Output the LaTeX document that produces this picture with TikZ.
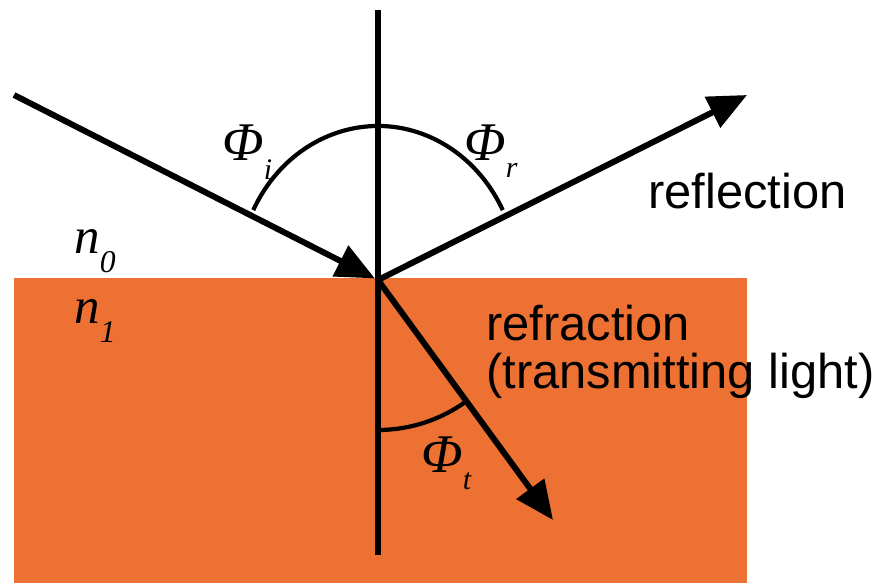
\documentclass[tikz,border=0pt]{standalone}
\usepackage{fontspec}
\setsansfont{Liberation Sans}
\newfontfamily\timesit[ItalicFont={Liberation Serif Italic}]{Liberation Serif}
\usetikzlibrary{arrows.meta}
\definecolor{medium}{RGB}{237,113,51}
\newcommand{\lowsub}[3]{\raisebox{-#3}{\fontsize{#2}{#2}\selectfont #1}}
\tikzset{
    ray/.style={
        line width=3.4pt,
        -{Triangle[length=22pt,width=19pt]}
    },
    normalLine/.style={line width=3pt},
    angleArc/.style={line width=2.4pt},
    sym/.style={
        inner sep=0pt,
        anchor=base west,
        font=\timesit\itshape\fontsize{31}{31}\selectfont
    },
    idx/.style={
        inner sep=0pt,
        anchor=base west,
        font=\timesit\itshape\fontsize{29}{29}\selectfont
    },
    lbl/.style={
        inner sep=0pt,
        anchor=base west,
        align=left,
        font=\sffamily\fontsize{27.8}{27.2}\selectfont
    }
}
\begin{document}
\begin{tikzpicture}[x=0.02cm, y=0.02cm]
\useasboundingbox (0,0) rectangle (883,583);
% lower medium
\fill[medium] (14,0) rectangle (747,305);
% points
\coordinate (hit) at (378,303);
\coordinate (src) at (14,488);
\coordinate (reflTip) at (747,488);
\coordinate (refrTip) at (553,63);
\coordinate (normTop) at (378,573);
\coordinate (normBot) at (378,28);
% normal and rays
\draw[normalLine] (normTop) -- (normBot);
\draw[ray, shorten >=2pt] (src) -- (hit);
\draw[ray] (hit) -- (reflTip);
\draw[ray] (hit) -- (refrTip);
% angles
\draw[angleArc] ([shift={(153:140 and 154)}]hit) arc[start angle=153, end angle=27, x radius=140, y radius=154];
\draw[angleArc] ([shift={(-90:150)}]hit) arc[start angle=-90, end angle=-54, radius=150];
% labels
\node[sym] (phiI) at (222,423) {Φ\lowsub{i}{17}{11pt}};
\node[sym] (phiR) at (464,423) {Φ\lowsub{r}{17}{10pt}};
\node[sym] (phiT) at (421,111) {Φ\lowsub{t}{17}{10pt}};
\node[idx] (nZero) at (74,330) {n\lowsub{0}{18}{11pt}};
\node[idx] (nOne) at (74,260) {n\lowsub{1}{18}{11pt}};
\node[lbl] (reflLbl) at (648,375) {reflection};
\node[lbl] (refrLbl) at (486,195) {refraction\\(transmitting light)};
\end{tikzpicture}
\end{document}
